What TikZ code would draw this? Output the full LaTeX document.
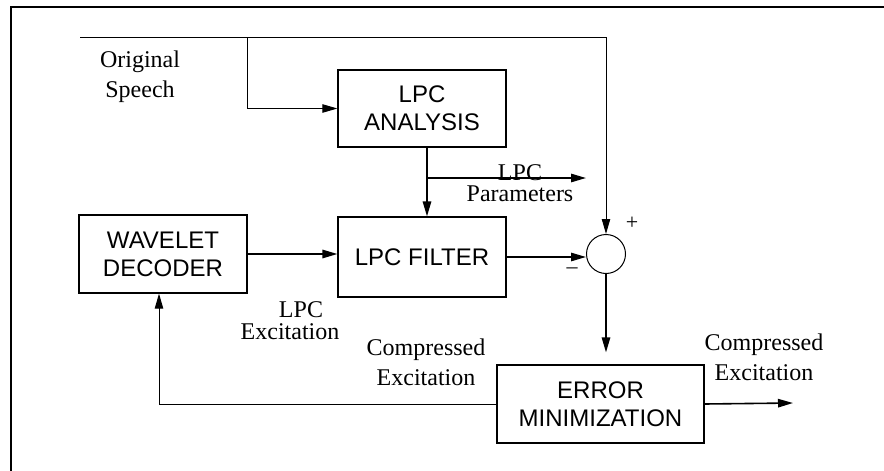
\documentclass[tikz,border=0pt]{standalone}
\usepackage{fontspec}
\setmainfont{Liberation Serif}
\setsansfont{Liberation Sans}
\usetikzlibrary{shapes,arrows,arrows.meta,positioning,fit}

\begin{document}
\begin{tikzpicture}[x=0.5pt, y=-0.5pt, >={Triangle[length=7.5pt,width=4.2pt]}]
			\tikzstyle{Block} 	= [rectangle, draw, line width=0.6pt, align=center, inner sep=0pt, font=\sffamily\fontsize{12}{14}\selectfont]
			\tikzstyle{Sum}		= [circle, draw, line width=0.5pt, minimum size=19.5pt, inner sep=0pt]
			\tikzstyle{Lbl}		= [align=center, inner sep=0pt, font=\fontsize{12}{15}\selectfont]
			\tikzstyle{Sig}		= [line width=0.8pt]
			\tikzstyle{Thin}	= [line width=0.5pt]

			\useasboundingbox (0,0) rectangle (884,471);
			\draw [line width=0.7pt] (11,471) -- (11,7) -- (884,7);

			\node (ana) at (422, 108.5) [Block, minimum width=84pt, minimum height=38.5pt] {LPC\\ANALYSIS};
			\node (filt) at (422, 257) [Block, minimum width=84pt, minimum height=40pt] {LPC FILTER};
			\node (dec) at (163, 254) [Block, minimum width=84pt, minimum height=39pt] {WAVELET\\DECODER};
			\node (err) at (600.5, 404) [Block, minimum width=103.5pt, minimum height=39pt] {ERROR\\MINIMIZATION};
			\node (sum) at (606, 254) [Sum] {};

			\coordinate (in) at (80, 37);
			\coordinate (tap) at (247, 37);
			\coordinate (pb) at (427, 178);
			\coordinate (pout) at (586, 178);
			\coordinate (eout) at (793, 403);

			\node (speech) at (140, 77) [Lbl] {Original\\ Speech};
			\node (par) at (520, 183) [Lbl, font=\fontsize{12}{10.5}\selectfont] {LPC\\Parameters};
			\node (exc) at (290, 321) [Lbl, font=\fontsize{12}{11}\selectfont] {\hspace*{11pt}LPC\\Excitation};
			\node (cexc) at (426, 362) [Lbl] {Compressed\\Excitation};
			\node (cout) at (764, 357) [Lbl] {Compressed\\Excitation};
			\node (plus) at (632, 223) [Lbl, font=\fontsize{11}{11}\selectfont] {+};
			\node (minus) at (572, 271) [Lbl, font=\fontsize{11}{11}\selectfont] {\textendash};

			\draw [->] (in) -- (in -| sum) -- (sum.north) [Thin];
			\draw [->] (tap) |- (ana.west) [Thin];
			\draw [->] ([xshift=2.5pt]ana.south) to ([xshift=2.5pt]filt.north) [Sig];
			\draw [->] (pb) to (pout) [Sig];
			\draw [->] (dec.east) to (dec.east -| filt.west) [Sig];
			\draw [->] (filt.east) to (filt.east -| sum.west) [Sig];
			\draw [->, shorten >=6pt] (sum.south) to (err.north -| sum) [Sig];
			\draw [->] (err.east) to (eout) [Sig];
			\draw [->] (err.west) -| ([xshift=-2pt]dec.south) [Thin];
\end{tikzpicture}
\end{document}
